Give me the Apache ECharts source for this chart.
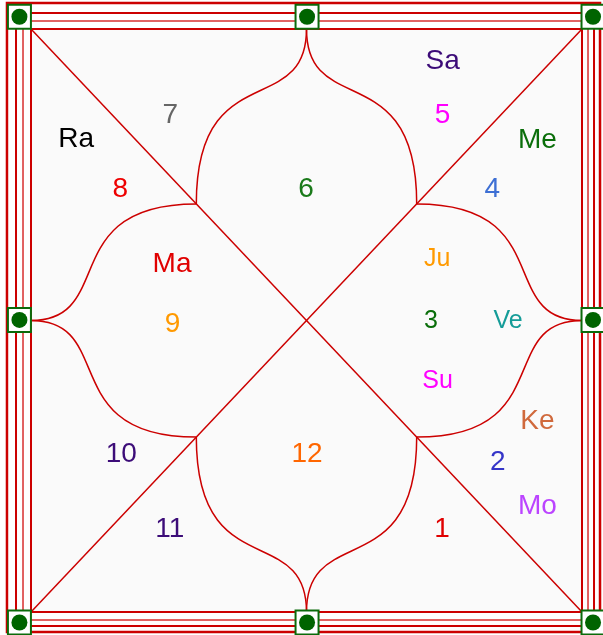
<!DOCTYPE html>
<html><head><meta charset="utf-8">
<script src="https://cdn.jsdelivr.net/npm/echarts@6/dist/echarts.min.js"></script>
<style>html,body{margin:0;padding:0;background:#fff}#c{width:603px;height:635px}</style>
</head><body><div id="c"></div>
<script>
// Chart units: the inner square spans 0..100 on both axes (y runs downward)
const houseNumbers = ['1','2','3','4','5','6','7','8','9','10','11','12'];
const houseX = [74.6, 84.7, 72.6, 83.7, 74.7, 49.9, 25.3, 16.2, 25.7, 16.4, 25.2, 50.1];
const houseY = [85.3, 73.9, 49.6, 27.1, 14.3, 27.0, 14.3, 27.0, 50.3, 72.6, 85.4, 72.6];
const houseColors = ['#e00000','#3535c8','#0a6e0a','#3d6fd4','#ff00ff','#1a7a1a','#666666','#ee0000','#ff9900','#3c0c78','#3c0c78','#ff6600'];
const houseFontSize = [28,28,25,28,28,28,28,28,28,28,28,28];

const planetNames  = ['Ra','Sa','Me','Ma','Ju','Ve','Su','Ke','Mo'];
const planetHouse  = [8, 5, 4, 9, 3, 3, 3, 2, 2];
const planetX = [8.2, 74.7, 91.9, 25.6, 73.7, 86.6, 73.8, 91.9, 91.9];
const planetY = [18.5, 5.1, 18.6, 40.0, 39.0, 49.7, 59.9, 66.8, 81.5];
const planetColors = ['#000000','#3c0c78','#0a6e0a','#e00000','#ff9a00','#159c98','#ff00ff','#d0693c','#bb44ff'];
const planetFontSize = [28,28,28,28,25,25,25,28,28];

// frame structure (chart units)
const diagonalFrom = [[0,0],[100,0]];
const diagonalTo   = [[100,100],[0,100]];
const petalJunction = [[30,30],[70,30],[30,30],[30,70],[30,70],[70,70],[70,30],[70,70]];
const petalMid      = [[50,0],[50,0],[0,50],[0,50],[50,100],[50,100],[100,50],[100,50]];
const borderRects = [
  [-4.36,-4.46,103.27,103.43],
  [-2.72,-2.74,102.18,102.40],
  [-1.45,-1.37,101.09,101.37]
];
const boxX = [-2.1, 50.1, 102.0, -2.1, 102.0, -2.1, 50.1, 102.0];
const boxY = [-2.1, -2.1, -2.1, 49.9, 49.9, 101.8, 101.8, 101.8];

const RED = '#cc0000';
const FONT = '"Liberation Sans", Arial, sans-serif';
const K1 = 0.85, K2 = 0.52;

const chart = echarts.init(document.getElementById('c'), null, {renderer:'canvas'});

const textData = [];
houseNumbers.forEach((h,i)=>textData.push([houseX[i], houseY[i], h, houseColors[i], houseFontSize[i]]));
planetNames.forEach((p,i)=>textData.push([planetX[i], planetY[i], p, planetColors[i], planetFontSize[i]]));

chart.setOption({
  animation:false,
  backgroundColor:'#ffffff',
  grid:{left:31, top:29, width:551, height:583},
  xAxis:{type:'value', min:0, max:100, show:false},
  yAxis:{type:'value', min:0, max:100, inverse:true, show:false},
  series:[
    { // border rectangles
      type:'custom', clip:false, z:1,
      data: borderRects.map((r,i)=>[r[0],r[1],r[2],r[3],i]),
      renderItem:(params, api)=>{
        const p1 = api.coord([api.value(0), api.value(1)]);
        const p2 = api.coord([api.value(2), api.value(3)]);
        const i = api.value(4);
        const widths = [2.5, 2, 1.5];
        const colors = [RED, RED, '#d83030'];
        return {type:'rect', shape:{x:p1[0], y:p1[1], width:p2[0]-p1[0], height:p2[1]-p1[1]},
          style:{fill:null, stroke:colors[i], lineWidth:widths[i]}};
      }
    },
    { // inner square
      type:'custom', clip:false, z:2,
      data:[[0,0,100,100]],
      renderItem:(params, api)=>{
        const p1 = api.coord([api.value(0), api.value(1)]);
        const p2 = api.coord([api.value(2), api.value(3)]);
        return {type:'rect', shape:{x:p1[0], y:p1[1], width:p2[0]-p1[0], height:p2[1]-p1[1]},
          style:{fill:'#fafafa', stroke:RED, lineWidth:2}};
      }
    },
    { // diagonals
      type:'custom', clip:false, z:3,
      data: diagonalFrom.map((f,i)=>[f[0],f[1],diagonalTo[i][0],diagonalTo[i][1]]),
      renderItem:(params, api)=>{
        const p1 = api.coord([api.value(0), api.value(1)]);
        const p2 = api.coord([api.value(2), api.value(3)]);
        return {type:'line', shape:{x1:p1[0], y1:p1[1], x2:p2[0], y2:p2[1]},
          style:{stroke:RED, lineWidth:1.5}};
      }
    },
    { // petal curves
      type:'custom', clip:false, z:3,
      data: petalJunction.map((j,i)=>[j[0],j[1],petalMid[i][0],petalMid[i][1]]),
      renderItem:(params, api)=>{
        const jx=api.value(0), jy=api.value(1), mx=api.value(2), my=api.value(3);
        let c1, c2;
        if (Math.abs(mx-jx) < Math.abs(my-jy)) {
          c1 = [jx, jy + K1*(my-jy)];
          c2 = [mx, my - K2*(my-jy)];
        } else {
          c1 = [jx + K1*(mx-jx), jy];
          c2 = [mx - K2*(mx-jx), my];
        }
        const p0 = api.coord([jx,jy]), p3 = api.coord([mx,my]);
        const q1 = api.coord(c1), q2 = api.coord(c2);
        return {type:'bezierCurve', shape:{x1:p0[0], y1:p0[1], cpx1:q1[0], cpy1:q1[1], cpx2:q2[0], cpy2:q2[1], x2:p3[0], y2:p3[1]},
          style:{stroke:RED, lineWidth:1.5, fill:null}};
      }
    },
    { // corner / mid boxes
      type:'custom', clip:false, z:5,
      data: boxX.map((x,i)=>[x, boxY[i]]),
      renderItem:(params, api)=>{
        const p = api.coord([api.value(0), api.value(1)]);
        return {type:'group', children:[
          {type:'rect', shape:{x:p[0]-11.5, y:p[1]-12, width:23, height:24},
            style:{fill:'#ffffff', stroke:'#0b6b0b', lineWidth:2}},
          {type:'circle', shape:{cx:p[0], cy:p[1], r:8}, style:{fill:'#006400'}}
        ]};
      }
    },
    { // texts
      type:'custom', clip:false, z:6,
      data: textData,
      renderItem:(params, api)=>{
        const d = textData[params.dataIndex];
        const p = api.coord([d[0], d[1]]);
        return {type:'text', x:p[0], y:p[1] + 2.5,
          style:{text:d[2], fill:d[3], fontSize:d[4], fontFamily:FONT, align:'center', verticalAlign:'middle'}};
      }
    }
  ]
});
</script></body></html>
